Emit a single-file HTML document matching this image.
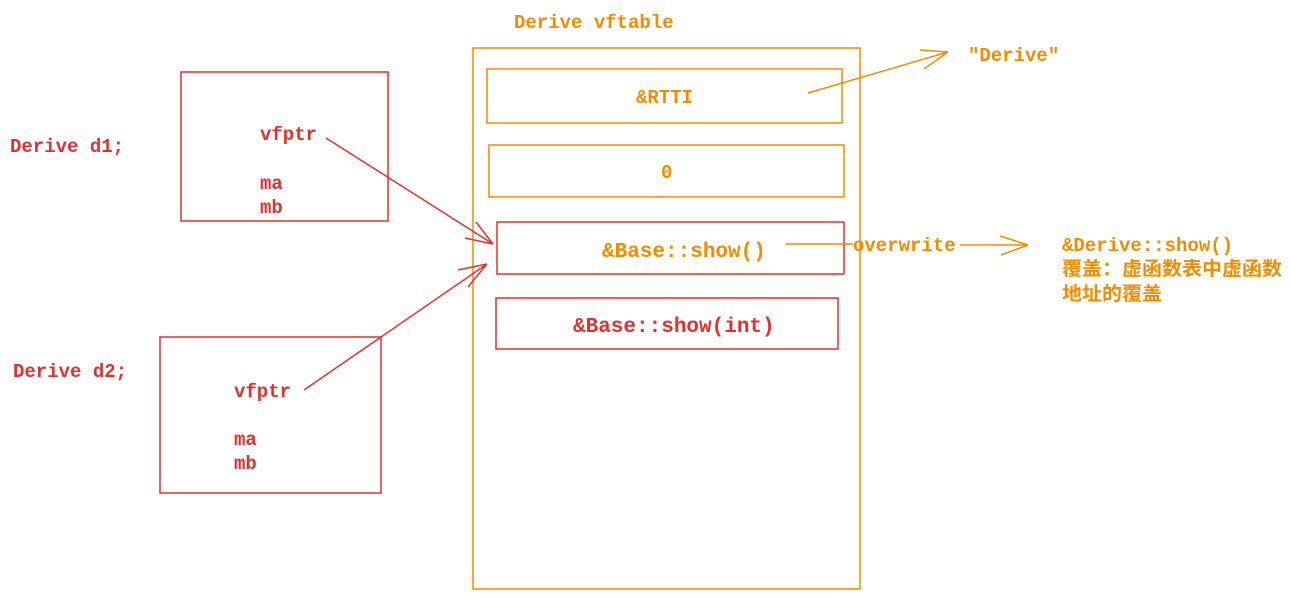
<!DOCTYPE html>
<html><head><meta charset="utf-8"><style>
html,body{margin:0;padding:0;background:#fff;}
svg{display:block}
text{font-family:"Liberation Mono","Noto Sans CJK SC",monospace;font-size:19px;font-weight:600;}
.r{fill:#e03131}.o{fill:#f08c00}
</style></head><body>
<svg width="1291" height="599" viewBox="0 0 1291 599" xmlns="http://www.w3.org/2000/svg">
<g fill="none" stroke-width="1.5">
<rect x="473" y="48" width="387" height="541" stroke="#f08c00"/>
<rect x="487" y="69" width="355" height="54" stroke="#f08c00"/>
<rect x="489" y="145" width="355" height="52" stroke="#f08c00"/>
<rect x="497" y="222" width="347" height="52" stroke="#e03131"/>
<rect x="496" y="298" width="342" height="51" stroke="#e03131"/>
<rect x="181" y="72" width="207" height="149" stroke="#e03131"/>
<rect x="160" y="337" width="221" height="156" stroke="#e03131"/>
<g stroke="#e03131">
<path d="M326 138 L493 244 M493 244 L465 238 M493 244 L476 222"/>
<path d="M304 390 L487 264 M487 264 L458 270 M487 264 L468 287"/>
</g>
<g stroke="#f08c00">
<path d="M808 93 L948 52 M948 52 L924 69 M948 52 L920 50"/>
<path d="M786 244 L853 244"/>
<path d="M960 245 L1028 245 M1028 245 L1000 236 M1028 245 L1001 255"/>
</g>
</g>
<text x="514" y="28" class="o">Derive vftable</text>
<text x="968" y="61" class="o">"Derive"</text>
<text x="636" y="103" class="o">&amp;RTTI</text>
<text x="661" y="178" class="o">0</text>
<text x="602" y="257" class="o" style="font-size:21px">&amp;Base::show()</text>
<text x="573" y="332" class="r" style="font-size:21px">&amp;Base::show(int)</text>
<text x="853" y="251" class="o">overwrite</text>
<text x="1062" y="251" class="o">&amp;Derive::show()</text>
<text x="1062" y="275" class="o" textLength="220" lengthAdjust="spacingAndGlyphs" style="font-size:19px">覆盖：虚函数表中虚函数</text>
<text x="1062" y="300" class="o" textLength="100" lengthAdjust="spacingAndGlyphs" style="font-size:19px">地址的覆盖</text>
<text x="10" y="152" class="r">Derive d1;</text>
<text x="260" y="140" class="r">vfptr</text>
<text x="260" y="189" class="r">ma</text>
<text x="260" y="213" class="r">mb</text>
<text x="13" y="377" class="r">Derive d2;</text>
<text x="234" y="397" class="r">vfptr</text>
<text x="234" y="445" class="r">ma</text>
<text x="234" y="469" class="r">mb</text>
</svg>
</body></html>
